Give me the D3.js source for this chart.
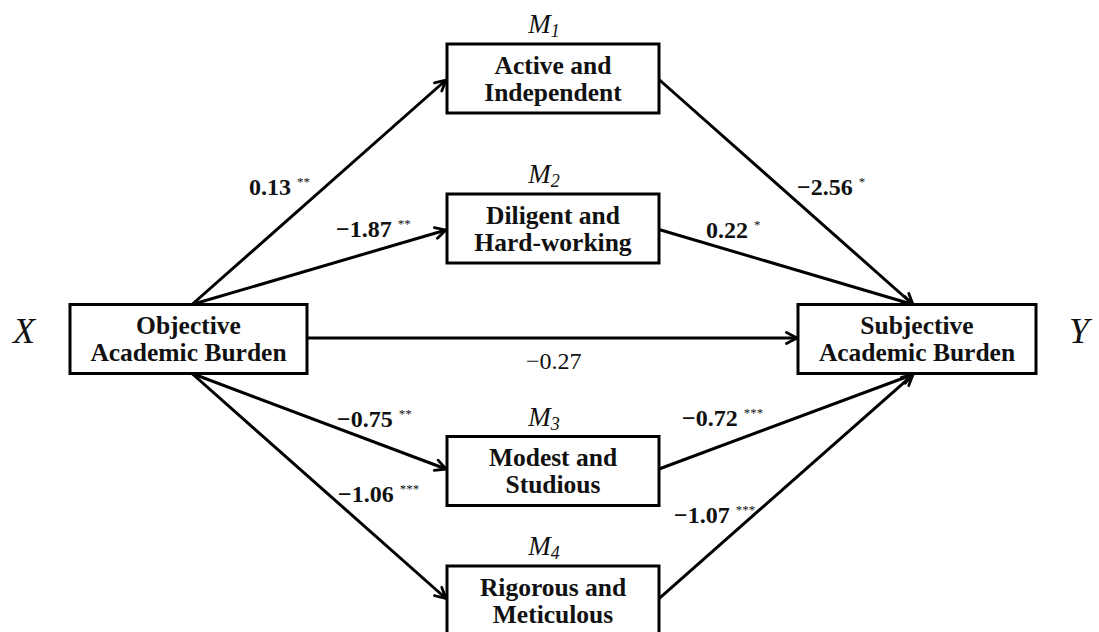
<!DOCTYPE html>
<html>
<head>
<meta charset="utf-8">
<script src="https://cdn.jsdelivr.net/npm/d3@7"></script>
<style>
  html, body { margin: 0; padding: 0; background: #fff; }
  svg { display: block; }
</style>
</head>
<body>
<svg id="chart" width="1099" height="632"></svg>
<script>
// ---------------- DATA ----------------
const nodeIds      = ["X", "M1", "M2", "M3", "M4", "Y"];
const nodeLine1    = ["Objective", "Active and", "Diligent and", "Modest and", "Rigorous and", "Subjective"];
const nodeLine2    = ["Academic Burden", "Independent", "Hard-working", "Studious", "Meticulous", "Academic Burden"];
const nodeSubs     = ["", "1", "2", "3", "4", ""];      // mediator subscripts
const pathFrom     = ["X",  "X",  "X",  "X",  "M1", "M2", "M3", "M4", "X"];
const pathTo       = ["M1", "M2", "M3", "M4", "Y",  "Y",  "Y",  "Y",  "Y"];
const pathCoef     = ["0.13", "\u22121.87", "\u22120.75", "\u22121.06", "\u22122.56", "0.22", "\u22120.72", "\u22121.07", "\u22120.27"];
const pathStars    = ["**", "**", "**", "***", "*", "*", "***", "***", ""];

// ---------------- LAYOUT ----------------
const svg = d3.select("#chart");
const serif = "'Liberation Serif', 'Times New Roman', serif";

// column (x) and row (y) scales for the node grid
const colX = d3.scaleOrdinal().domain(["left", "mid", "right"]).range([188.5, 553, 917]);
const rowY = d3.scaleOrdinal().domain(["r1", "r2", "r0", "r3", "r4"]).range([78.5, 228.5, 339, 471, 600.5]);
const nodeCol = {X: "left", M1: "mid", M2: "mid", M3: "mid", M4: "mid", Y: "right"};
const nodeRow = {X: "r0", M1: "r1", M2: "r2", M3: "r3", M4: "r4", Y: "r0"};
const boxW = {left: 237, mid: 212, right: 238};
const boxH = 69;

const nodes = nodeIds.map((id, i) => {
  const c = nodeCol[id];
  return {
    id, l1: nodeLine1[i], l2: nodeLine2[i], sub: nodeSubs[i],
    cx: colX(c), cy: rowY(nodeRow[id]), w: boxW[c], h: boxH
  };
});
const byId = Object.fromEntries(nodes.map(n => [n.id, n]));

// arrowhead marker (open chevron)
const defs = svg.append("defs");
defs.append("marker")
  .attr("id", "arrow")
  .attr("viewBox", "0 0 14 14")
  .attr("refX", 12.5).attr("refY", 7)
  .attr("markerWidth", 14).attr("markerHeight", 14)
  .attr("markerUnits", "userSpaceOnUse")
  .attr("orient", "auto")
  .append("path")
  .attr("d", "M2,1.5 L12.5,7 L2,12.5")
  .attr("fill", "none")
  .attr("stroke", "#000")
  .attr("stroke-width", 2.8)
  .attr("stroke-linecap", "round")
  .attr("stroke-linejoin", "round");

// anchor points for each path
function endpoints(from, to) {
  const a = byId[from], b = byId[to];
  let p1, p2;
  if (from === "X" && to === "Y") {
    p1 = [a.cx + a.w / 2, a.cy - 1];
    p2 = [b.cx - b.w / 2 - 1, b.cy - 1];
  } else if (from === "X") {
    const up = b.cy < a.cy;
    p1 = [a.cx + 3.5, up ? a.cy - a.h / 2 : a.cy + a.h / 2];
    p2 = [b.cx - b.w / 2 - 1, b.cy + (up ? 1.5 : -2)];
  } else {
    const up = a.cy < b.cy;
    p1 = [a.cx + a.w / 2, a.cy + (up ? 1 : -2)];
    p2 = [b.cx - 4, up ? b.cy - b.h / 2 : b.cy + b.h / 2 + 1];
  }
  return [p1, p2];
}

const paths = pathFrom.map((f, i) => ({from: f, to: pathTo[i], coef: pathCoef[i], stars: pathStars[i]}));

svg.append("g").selectAll("line")
  .data(paths)
  .join("line")
  .each(function(d) {
    const [p1, p2] = endpoints(d.from, d.to);
    d3.select(this)
      .attr("x1", p1[0]).attr("y1", p1[1])
      .attr("x2", p2[0]).attr("y2", p2[1]);
  })
  .attr("stroke", "#000")
  .attr("stroke-width", 3)
  .attr("marker-end", "url(#arrow)");

// boxes
const g = svg.append("g").selectAll("g.node")
  .data(nodes)
  .join("g")
  .attr("class", "node");

g.append("rect")
  .attr("x", d => d.cx - d.w / 2)
  .attr("y", d => d.cy - d.h / 2)
  .attr("width", d => d.w)
  .attr("height", d => d.h)
  .attr("fill", "#fff")
  .attr("stroke", "#000")
  .attr("stroke-width", 3);

g.append("text")
  .attr("x", d => d.cx)
  .attr("y", d => d.cy - 5)
  .attr("text-anchor", "middle")
  .attr("font-family", serif)
  .attr("font-weight", "bold")
  .attr("font-size", 25.5)
  .attr("fill", "#111")
  .text(d => d.l1);

g.append("text")
  .attr("x", d => d.cx)
  .attr("y", d => d.cy + 22)
  .attr("text-anchor", "middle")
  .attr("font-family", serif)
  .attr("font-weight", "bold")
  .attr("font-size", 25.5)
  .attr("fill", "#111")
  .text(d => d.l2);

// mediator labels M_i above boxes
const med = g.filter(d => d.sub !== "")
  .append("text")
  .attr("x", d => d.cx - 9)
  .attr("y", d => d.cy - d.h / 2 - 11)
  .attr("text-anchor", "middle")
  .attr("font-family", serif)
  .attr("font-style", "italic")
  .attr("font-size", 27)
  .attr("fill", "#111");
med.append("tspan").text("M");
med.append("tspan")
  .attr("font-size", 18)
  .attr("dy", 4)
  .text(d => d.sub);

// X and Y italic side labels
const sideLabels = [
  {t: nodeIds[0], x: 24, y: 343},
  {t: nodeIds[5], x: 1079, y: 343}
];
svg.append("g").selectAll("text")
  .data(sideLabels)
  .join("text")
  .attr("x", d => d.x)
  .attr("y", d => d.y)
  .attr("text-anchor", "middle")
  .attr("font-family", serif)
  .attr("font-style", "italic")
  .attr("font-size", 36)
  .attr("fill", "#111")
  .text(d => d.t);

// coefficient label placements (start x, baseline y) for each path in order
const labelPos = [
  [249, 195], [336, 237], [337, 427], [338, 502],
  [797, 195], [706, 238], [682, 426], [674, 523],
  [526, 369]
];

const lab = svg.append("g").selectAll("text")
  .data(paths)
  .join("text")
  .attr("x", (d, i) => labelPos[i][0])
  .attr("y", (d, i) => labelPos[i][1])
  .attr("font-family", serif)
  .attr("font-weight", d => d.stars === "" ? "normal" : "bold")
  .attr("font-size", 24)
  .attr("fill", "#111");
lab.append("tspan").text(d => d.coef);
lab.filter(d => d.stars !== "")
  .append("tspan")
  .attr("dx", 6)
  .attr("dy", -9)
  .attr("font-size", 13)
  .attr("font-weight", "normal")
  .text(d => d.stars);
</script>
</body>
</html>
